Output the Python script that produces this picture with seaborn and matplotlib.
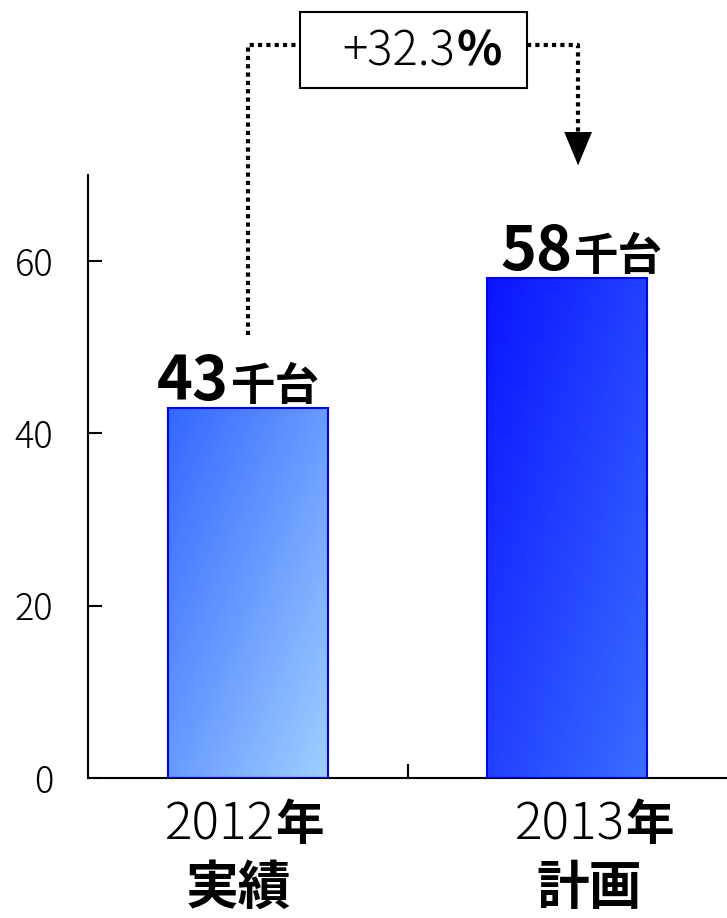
import numpy as np
import pandas as pd
import seaborn as sns
import matplotlib.pyplot as plt
from matplotlib.colors import to_rgb
from matplotlib.patches import Rectangle


# data
years = ["2012年", "2013年"]
year_nums = ["2012", "2013"]
kinds = ["実績", "計画"]
units = [43, 58]
growth = "+32.3"

# gradient colours per bar (top-left -> bottom-right)
grad_start = ["#3366ff", "#0a14ff"]
grad_end = ["#9fd0ff", "#3a6eff"]

# small per-bar horizontal nudges in pixels (labels in the original are not centred)
value_shift = [-19, 5]
label_shift = [-9, 22]

df = pd.DataFrame({"year": years, "units": units})

sns.set_theme(style="white")
plt.rcParams["font.family"] = ["Noto Sans CJK JP", "DejaVu Sans"]

fig = plt.figure(figsize=(7.27, 9.18), dpi=100)
ax = fig.add_axes([88 / 727, 140 / 918, 639 / 727, 603 / 918])

sns.barplot(data=df, x="year", y="units", width=0.5, color="#3366ff",
            edgecolor="#0000ff", linewidth=1.5, ax=ax)

# gradient fill inside each bar
for i, bar in enumerate(ax.patches):
    x0, y0 = bar.get_x(), bar.get_y()
    w, h = bar.get_width(), bar.get_height()
    c0 = np.array(to_rgb(grad_start[i]))
    c1 = np.array(to_rgb(grad_end[i]))
    U, V = np.meshgrid(np.linspace(0, 1, 200), np.linspace(0, 1, 400))
    t = (U + V) / 2
    img = c0 + (c1 - c0) * t[..., None]
    im = ax.imshow(img, extent=(x0, x0 + w, y0, y0 + h), aspect="auto",
                   zorder=2, interpolation="bilinear")
    im.set_clip_path(bar)
    bar.set_facecolor("none")
    bar.set_zorder(3)

ax.set_xlim(-0.5, 1.5)
ax.set_ylim(0, 70)
ax.set_xlabel("")
ax.set_ylabel("")

# axes styling
for side in ["top", "right"]:
    ax.spines[side].set_visible(False)
for side in ["left", "bottom"]:
    ax.spines[side].set_color("black")
    ax.spines[side].set_linewidth(1.5)

ax.set_yticks([0, 20, 40, 60])
ax.tick_params(axis="y", left=True, direction="in", length=10, width=1.5,
               pad=25, labelsize=26, colors="black")
for lab in ax.get_yticklabels():
    lab.set_fontweight("light")
ax.set_xticks([0, 1])
ax.set_xticklabels([])
ax.set_xticks([0.5], minor=True)
ax.tick_params(axis="x", which="major", bottom=False, length=0)
ax.tick_params(axis="x", which="minor", bottom=True, direction="in",
               length=10, width=1.5, color="black")

# value labels on top of bars
for i, v in enumerate(units):
    ax.annotate(str(v), xy=(i, v), xytext=(value_shift[i], 8),
                textcoords="offset pixels", ha="right", va="baseline",
                fontsize=44, fontweight="bold", color="black")
    ax.annotate("千台", xy=(i, v), xytext=(value_shift[i] + 2, 8),
                textcoords="offset pixels", ha="left", va="baseline",
                fontsize=32, fontweight="bold", color="black")

# category labels below axis
for i in range(len(years)):
    split = label_shift[i] + 36
    ax.annotate(year_nums[i], xy=(i, 0), xytext=(split, -62),
                textcoords="offset pixels", ha="right", va="baseline",
                fontsize=37, fontweight="light", color="black",
                annotation_clip=False)
    ax.annotate("年", xy=(i, 0), xytext=(split, -62),
                textcoords="offset pixels", ha="left", va="baseline",
                fontsize=35, fontweight="bold", color="black",
                annotation_clip=False)
    ax.annotate(kinds[i], xy=(i, 0), xytext=(label_shift[i], -126),
                textcoords="offset pixels", ha="center", va="baseline",
                fontsize=38, fontweight="bold", color="black",
                annotation_clip=False)

# growth bracket with box and arrow
dot = (0, (1, 1))
ax.plot([0, 0, 0.164], [51.4, 85.1, 85.1], ls=dot, lw=3, color="black",
        clip_on=False, dash_capstyle="butt")
ax.plot([0.874, 1.034, 1.034], [85.1, 85.1, 74.3], ls=dot, lw=3,
        color="black", clip_on=False, dash_capstyle="butt")
ax.annotate("", xy=(1.034, 70.8), xytext=(1.034, 74.3),
            arrowprops=dict(arrowstyle="-|>,head_length=1.2,head_width=0.5",
                            mutation_scale=20, color="black", lw=0),
            annotation_clip=False)
ax.add_patch(Rectangle((0.164, 80.1), 0.71, 8.8, fill=False, lw=1.5,
                       ec="black", clip_on=False))
ax.text(0.649, 84.3, growth, ha="right", va="center", fontsize=34,
        fontweight="light", color="black")
ax.text(0.652, 84.3, "%", ha="left", va="center", fontsize=34,
        fontweight="bold", color="black")

plt.savefig("out.png", dpi=100)
plt.close()
